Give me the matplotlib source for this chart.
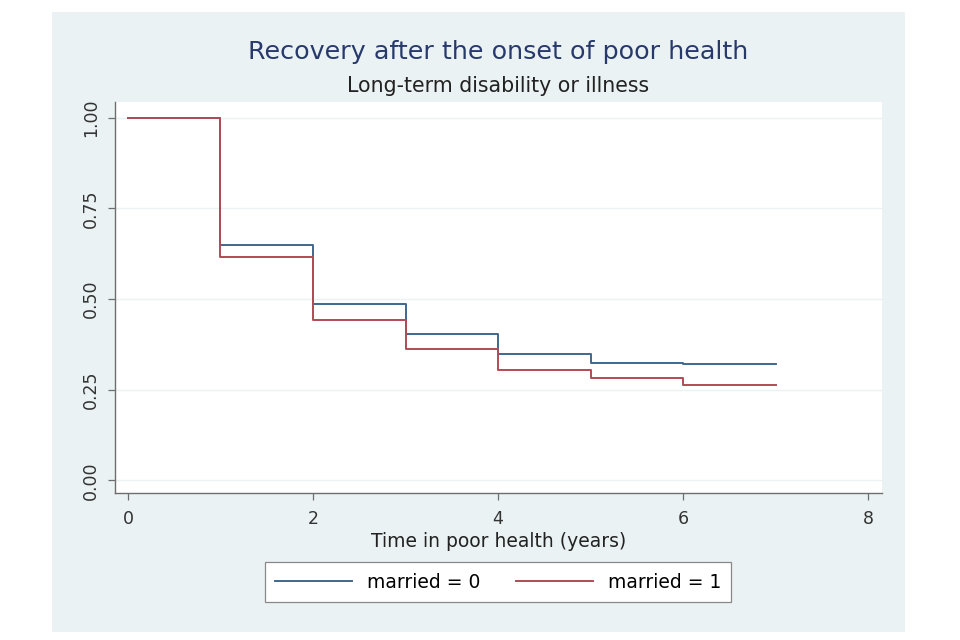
import matplotlib.pyplot as plt
from matplotlib.patches import Rectangle

plt.rcParams['font.family'] = ['DejaVu Sans']

# survival estimates at t = 0..6, curve runs to t = 7
times = [0, 1, 2, 3, 4, 5, 6]
t_end = 7
surv_married0 = [1.0, 0.649, 0.485, 0.403, 0.348, 0.324, 0.321]
surv_married1 = [1.0, 0.616, 0.442, 0.362, 0.304, 0.281, 0.263]
labels = ['married = 0', 'married = 1']
xticks = [0, 2, 4, 6, 8]
yticks = [0.0, 0.25, 0.50, 0.75, 1.00]

bg = '#EAF2F3'
blue = '#3F6890'
red = '#B04C56'
axis_col = '#6E6E6E'

fig = plt.figure(figsize=(9.6, 6.4), dpi=100)
fig.patch.set_facecolor('white')
# light panel behind the graph
panel = Rectangle((52 / 960, 1 - 632 / 640), (905 - 52) / 960, (632 - 12) / 640,
                  transform=fig.transFigure, facecolor=bg, edgecolor='none', zorder=-10)
fig.add_artist(panel)

ax = fig.add_axes([115 / 960, 1 - 493 / 640, (882 - 115) / 960, (493 - 102) / 640])
ax.set_facecolor('white')

for surv, col, lab in [(surv_married0, blue, labels[0]), (surv_married1, red, labels[1])]:
    ax.step(times + [t_end], surv + [surv[-1]], where='post', color=col, lw=1.4, label=lab)

ax.set_xlim(-0.14, 8.15)
ax.set_ylim(-0.035, 1.043)
ax.set_xticks(xticks)
ax.set_yticks(yticks)
ax.set_yticklabels(['0.00', '0.25', '0.50', '0.75', '1.00'], rotation=90, va='center')
ax.tick_params(colors=axis_col, labelcolor='#333333', labelsize=12.5, length=5, width=0.9)
ax.tick_params(axis='x', pad=7)
ax.tick_params(axis='y', pad=6)
ax.yaxis.grid(True, color=bg, lw=1.0)
ax.set_axisbelow(True)
for s in ['top', 'right']:
    ax.spines[s].set_visible(False)
for s in ['left', 'bottom']:
    ax.spines[s].set_color(axis_col)
    ax.spines[s].set_linewidth(1.0)

ax.set_xlabel('Time in poor health (years)', fontsize=13.5, color='#222222', labelpad=3)

cx = 498 / 960
fig.text(cx, 1 - 52 / 640, 'Recovery after the onset of poor health', ha='center', va='center',
         fontsize=18.3, color='#283A6C')
fig.text(cx, 1 - 86 / 640, 'Long-term disability or illness', ha='center', va='center',
         fontsize=14.8, color='#222222')

leg = fig.legend(loc='center', bbox_to_anchor=(cx, 1 - 582 / 640), ncol=2,
                 fontsize=13.5, frameon=True, fancybox=False, handlelength=4.1,
                 handletextpad=0.8, columnspacing=1.9, borderpad=0.55, framealpha=1)
leg.get_frame().set_facecolor('white')
leg.get_frame().set_edgecolor('#888888')
leg.get_frame().set_linewidth(0.9)

fig.savefig('out.png', dpi=100, facecolor=fig.get_facecolor())
